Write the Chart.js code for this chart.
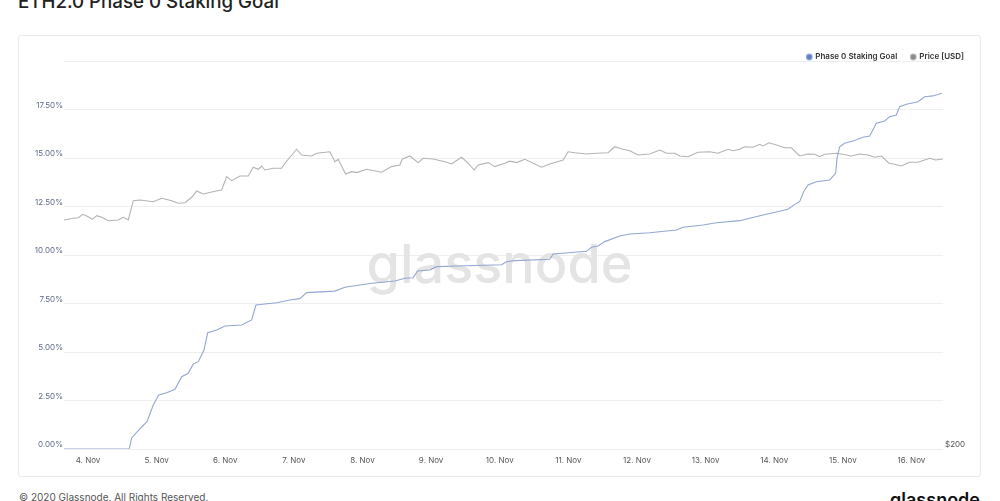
<!DOCTYPE html>
<html>
<head>
<meta charset="utf-8">
<script src="https://cdn.jsdelivr.net/npm/chart.js@4.4.1/dist/chart.umd.min.js"></script>
<style>
  html, body { margin: 0; padding: 0; background: #fff; overflow: hidden; }
  body { width: 1000px; height: 501px; position: relative; font-family: Inter, "Noto Sans", sans-serif; }
  #title { position: absolute; left: 18px; top: -10px; font-size: 18.7px; line-height: 24px; font-weight: 500; color: #222; white-space: nowrap; }
  #card { position: absolute; left: 18px; top: 35px; width: 961px; height: 440px; border: 1px solid #e9e9e9; border-radius: 3px; }
  #card canvas { position: absolute; left: 0; top: 0; }
  #footer { position: absolute; left: 19px; top: 491px; font-size: 10px; line-height: 12px; color: #555; white-space: nowrap; }
  #logo { position: absolute; right: 20px; top: 490px; font-size: 18px; line-height: 20px; font-weight: 600; color: #111; white-space: nowrap; }
</style>
</head>
<body>
<div id="title">ETH2.0 Phase 0 Staking Goal</div>
<div id="card"><canvas id="stakingChart" width="961" height="439"></canvas></div>
<div id="footer">© 2020 Glassnode. All Rights Reserved.</div>
<div id="logo">glassnode</div>
<script>
// days counted from 4 Nov 2020 00:00
const dayTicks = [0, 1, 2, 3, 4, 5, 6, 7, 8, 9, 10, 11, 12];
const tickLabels = ["4. Nov", "5. Nov", "6. Nov", "7. Nov", "8. Nov", "9. Nov", "10. Nov",
  "11. Nov", "12. Nov", "13. Nov", "14. Nov", "15. Nov", "16. Nov"];

// Phase 0 staking goal reached (%)
const goalDays = [-0.35, 0.60, 0.637, 0.728, 0.859, 0.951, 1.030, 1.146, 1.267, 1.365, 1.461, 1.534,
  1.607, 1.690, 1.744, 1.875, 1.996, 2.239, 2.385, 2.447, 2.749, 2.942, 3.088, 3.186, 3.598, 3.744,
  4.133, 4.472, 4.618, 4.738, 4.803, 4.982, 5.079, 5.394, 6.026, 6.099, 6.220, 6.730, 6.778, 7.264,
  7.337, 7.433, 7.531, 7.749, 7.895, 8.187, 8.575, 8.671, 8.963, 9.158, 9.497, 9.643, 9.837, 9.983,
  10.201, 10.299, 10.371, 10.429, 10.492, 10.614, 10.808, 10.896, 10.915, 10.954, 11.027, 11.148,
  11.293, 11.391, 11.489, 11.610, 11.682, 11.780, 11.828, 11.926, 12.095, 12.192, 12.313, 12.444];
const goalPct = [0, 0, 0.57, 0.94, 1.41, 2.27, 2.78, 2.90, 3.08, 3.73, 3.90, 4.38,
  4.50, 5.10, 5.99, 6.13, 6.34, 6.39, 6.65, 7.42, 7.54, 7.68, 7.75, 8.06, 8.14, 8.34,
  8.54, 8.66, 8.80, 8.83, 9.18, 9.23, 9.40, 9.43, 9.50, 9.65, 9.71, 9.78, 10.05, 10.19,
  10.40, 10.46, 10.69, 10.98, 11.08, 11.15, 11.29, 11.43, 11.55, 11.66, 11.77, 11.89, 12.06, 12.18,
  12.36, 12.61, 12.75, 13.26, 13.61, 13.78, 13.87, 14.21, 14.98, 15.58, 15.76, 15.88,
  16.07, 16.13, 16.79, 16.91, 17.13, 17.22, 17.64, 17.77, 17.90, 18.16, 18.20, 18.34];

// ETH price (USD)
const priceDays = [-0.350, -0.214, -0.141, -0.077, -0.019, 0.063, 0.127, 0.200, 0.296, 0.441, 0.514,
  0.587, 0.660, 0.757, 0.951, 1.074, 1.219, 1.315, 1.413, 1.511, 1.583, 1.680, 1.850, 1.948, 2.020,
  2.093, 2.214, 2.335, 2.408, 2.481, 2.530, 2.578, 2.699, 2.822, 2.870, 2.942, 3.040, 3.113, 3.259,
  3.331, 3.525, 3.598, 3.646, 3.754, 3.841, 3.914, 4.060, 4.278, 4.424, 4.545, 4.578, 4.690, 4.811,
  4.884, 5.030, 5.200, 5.298, 5.444, 5.531, 5.627, 5.685, 5.831, 5.929, 6.074, 6.147, 6.245, 6.366,
  6.609, 6.730, 6.924, 6.996, 7.094, 7.264, 7.410, 7.579, 7.676, 7.798, 7.895, 8.016, 8.187, 8.333,
  8.430, 8.551, 8.624, 8.744, 8.890, 9.060, 9.181, 9.327, 9.400, 9.497, 9.570, 9.691, 9.789, 9.837,
  9.924, 10.032, 10.153, 10.250, 10.371, 10.492, 10.590, 10.663, 10.736, 10.906, 11.002, 11.124,
  11.245, 11.366, 11.464, 11.562, 11.672, 11.755, 11.853, 11.974, 12.095, 12.192, 12.265, 12.352, 12.459];
const priceUsd = [383.0, 384.3, 384.8, 387.5, 386.2, 383.5, 386.4, 385.1, 382.4, 383.0, 385.1,
  383.0, 398.4, 398.9, 397.6, 400.3, 398.4, 396.3, 396.8, 401.1, 406.1, 403.7, 405.9, 406.9, 417.6,
  414.4, 418.1, 418.1, 425.1, 423.5, 426.1, 422.9, 424.3, 424.3, 428.3, 433.1, 439.5, 434.9, 434.1,
  436.3, 437.5, 429.5, 431.5, 419.7, 421.6, 420.8, 423.5, 421.1, 425.6, 426.9, 431.5, 434.1, 428.8,
  432.3, 431.7, 429.5, 427.7, 433.1, 428.8, 422.9, 426.9, 428.8, 425.6, 428.3, 430.0, 428.8, 431.5,
  425.1, 427.7, 430.9, 437.5, 436.7, 435.7, 436.3, 436.7, 441.5, 439.5, 438.3, 434.9, 435.7, 438.9,
  436.3, 436.3, 434.1, 433.5, 437.1, 437.5, 436.3, 439.5, 438.3, 439.5, 441.5, 441.1, 443.4, 442.1,
  444.7, 442.9, 440.7, 440.7, 434.1, 435.7, 435.5, 433.5, 435.5, 436.3, 435.5, 434.1,
  435.7, 434.9, 433.1, 434.1, 428.3, 427.5, 426.1, 429.1, 429.1, 430.9, 432.3, 430.9, 431.7];

const toPoints = (xs, ys) => xs.map((x, i) => ({ x: x, y: ys[i] }));

const watermark = {
  id: "watermark",
  beforeDatasetsDraw(chart) {
    const ctx = chart.ctx;
    ctx.save();
    ctx.font = "500 54px Inter";
    ctx.fillStyle = "#e4e4e4";
    ctx.textAlign = "center";
    ctx.textBaseline = "alphabetic";
    ctx.fillText("glassnode", 480.5, 247);
    ctx.restore();
  }
};

const tickFont = { family: "Inter", size: 8 };

new Chart(document.getElementById("stakingChart"), {
  type: "line",
  data: {
    datasets: [
      {
        label: "Phase 0 Staking Goal",
        data: toPoints(goalDays, goalPct),
        yAxisID: "y",
        borderColor: "#93a6d4",
        backgroundColor: "#5d80c6",
        borderWidth: 1.1,
        pointRadius: 0,
        tension: 0
      },
      {
        label: "Price [USD]",
        data: toPoints(priceDays, priceUsd),
        yAxisID: "yPrice",
        borderColor: "#b3b3b3",
        backgroundColor: "#8a8a8a",
        borderWidth: 1.1,
        pointRadius: 0,
        tension: 0
      }
    ]
  },
  options: {
    responsive: false,
    animation: false,
    layout: { padding: { top: 3, right: 2, left: 0, bottom: 0 } },
    plugins: {
      tooltip: { enabled: false },
      legend: {
        position: "top",
        align: "end",
        maxHeight: 22,
        labels: {
          usePointStyle: true,
          pointStyle: "circle",
          boxWidth: 4,
          boxHeight: 4,
          padding: 14,
          color: "#333",
          font: { family: "Inter", size: 8, weight: "600" }
        }
      }
    },
    scales: {
      x: {
        type: "linear",
        min: -0.35,
        max: 12.46,
        afterBuildTicks: (axis) => { axis.ticks = dayTicks.map((v) => ({ value: v })); },
        afterFit: (axis) => { axis.height = 26; },
        grid: { display: false, drawTicks: false },
        border: { display: false },
        ticks: {
          autoSkip: false,
          maxRotation: 0,
          padding: 7,
          color: "#555",
          font: tickFont,
          callback: (v, i) => tickLabels[i]
        }
      },
      y: {
        position: "left",
        min: 0,
        max: 20,
        afterFit: (axis) => { axis.width = 45; },
        grid: { color: "#efefef", lineWidth: 1, drawTicks: false },
        border: { display: false },
        ticks: {
          stepSize: 2.5,
          padding: 1,
          labelOffset: -4,
          color: "#5f6a88",
          font: tickFont,
          callback: (v) => (v === 20 ? "" : v.toFixed(2) + "%")
        }
      },
      yPrice: {
        position: "right",
        min: 200,
        max: 510,
        afterBuildTicks: (axis) => { axis.ticks = [{ value: 200 }]; },
        afterFit: (axis) => { axis.width = 35; },
        grid: { display: false, drawTicks: false },
        border: { display: false },
        ticks: {
          padding: 2,
          labelOffset: -4,
          color: "#555",
          font: tickFont,
          callback: (v) => "$" + v
        }
      }
    }
  },
  plugins: [watermark]
});
</script>
</body>
</html>
